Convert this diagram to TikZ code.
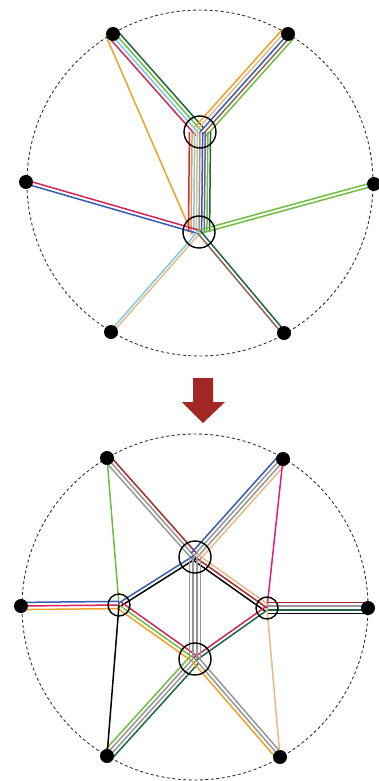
\documentclass[tikz,border=0pt]{standalone}
\usepackage{xcolor}
\usepackage{tikz}
\usetikzlibrary{calc,backgrounds}
\definecolor{crimson}{RGB}{214,36,86}
\definecolor{skyblue}{RGB}{125,200,232}
\definecolor{tanline}{RGB}{232,184,136}
\definecolor{orangeline}{RGB}{240,160,40}
\definecolor{blueline}{RGB}{52,92,178}
\definecolor{greenline}{RGB}{112,190,64}
\definecolor{dkgreen}{RGB}{30,100,62}
\definecolor{grayline}{RGB}{150,150,150}
\definecolor{brownline}{RGB}{140,100,90}
\definecolor{violetline}{RGB}{120,90,160}
\definecolor{redline}{RGB}{170,40,40}
\definecolor{magline}{RGB}{228,30,120}
\definecolor{arrowred}{RGB}{162,40,38}

\tikzset{
  term/.style={circle,fill=black,inner sep=0pt,minimum size=14pt},
  hub/.style={circle,draw=black,line width=1.4pt,inner sep=0pt,minimum size=#1},
  hub/.default=32pt,
  wire/.style={line width=1.5pt},
  rim/.style={black!80,line width=0.9pt,dash pattern=on 3pt off 2.5pt}
}
\newcommand{\wires}[3]{\foreach \o/\c in {#3}
  \draw[wire,\c] ($(#1)!\o*1.2pt!90:(#2)$) -- ($(#2)!\o*1.2pt!-90:(#1)$);}

\begin{document}
\begin{tikzpicture}[x=1pt,y=-1pt]
  \useasboundingbox (0,0) rectangle (379,781);
  \draw[rim] (200,183) circle (173);
  \node[term] (a1) at (113,34) {};
  \node[term] (a2) at (288,34) {};
  \node[term] (a3) at (26,182) {};
  \node[term] (a4) at (374,184) {};
  \node[term] (a5) at (111,332) {};
  \node[term] (a6) at (284,333) {};
  \node[hub] (ha) at (200,132) {};
  \node[hub] (hb) at (199,232) {};
  \begin{scope}[on background layer]
    \wires{a1}{ha}{4.5/dkgreen,1.5/greenline,-1.5/skyblue,-4.5/crimson}
    \wires{a1}{hb}{-6/orangeline}
    \wires{a2}{ha}{-6/orangeline,-3/tanline,0/blueline,3/brownline,6/greenline}
    \wires{ha}{hb}{-8.8/crimson,-6.6/orangeline,-4.4/skyblue,-2.2/tanline,0/grayline,
                   2.2/blueline,4.4/violetline,6.6/greenline,8.8/dkgreen}
    \wires{hb}{a3}{-1.5/crimson,1.5/blueline}
    \wires{hb}{a4}{-1.5/greenline,1.5/greenline}
    \wires{hb}{a5}{-1/skyblue,1.2/tanline}
    \wires{hb}{a6}{-1.5/brownline,1.5/dkgreen}
  \end{scope}

  \fill[arrowred] (193,378) -- (213,378) -- (213,402) -- (225,402) -- (203,423)
    -- (182,402) -- (193,402) -- cycle;

  \draw[rim] (195,607) circle (173);
  \node[term] (b1) at (107,458) {};
  \node[term] (b2) at (283,459) {};
  \node[term] (b3) at (21,606) {};
  \node[term] (b4) at (368,608) {};
  \node[term] (b5) at (107,756) {};
  \node[term] (b6) at (280,757) {};
  \node[hub] (hc) at (195,557) {};
  \node[hub=22pt] (hl) at (119,605) {};
  \node[hub=22pt] (hr) at (267,608) {};
  \node[hub] (hd) at (195,659) {};
  \begin{scope}[on background layer]
    \wires{b1}{hc}{3/redline,0/grayline,-3/grayline}
    \wires{b1}{hl}{0/greenline}
    \wires{b2}{hc}{-4.5/blueline,-1.5/grayline,1.5/grayline,4.5/tanline}
    \wires{b2}{hr}{0/magline}
    \wires{b3}{hl}{3/blueline,0/crimson,-3/orangeline}
    \wires{hr}{b4}{4.5/redline,1.5/grayline,-1.5/dkgreen,-4.5/black}
    \wires{hc}{hr}{3/tanline,0/redline,-3/black}
    \wires{hc}{hl}{-1.5/blueline,1.5/black}
    \wires{hl}{hd}{3/crimson,0/greenline,-3/orangeline}
    \wires{hd}{hr}{1.5/crimson,-1.5/dkgreen}
    \wires{hc}{hd}{-4.5/grayline,-1.5/grayline,1.5/grayline,4.5/grayline}
    \wires{hd}{b5}{4.5/dkgreen,1.5/grayline,-1.5/grayline,-4.5/greenline}
    \wires{hd}{b6}{3/grayline,0/grayline,-3/orangeline}
    \wires{hl}{b5}{0/black}
    \wires{hr}{b6}{0/tanline}
  \end{scope}
\end{tikzpicture}
\end{document}
